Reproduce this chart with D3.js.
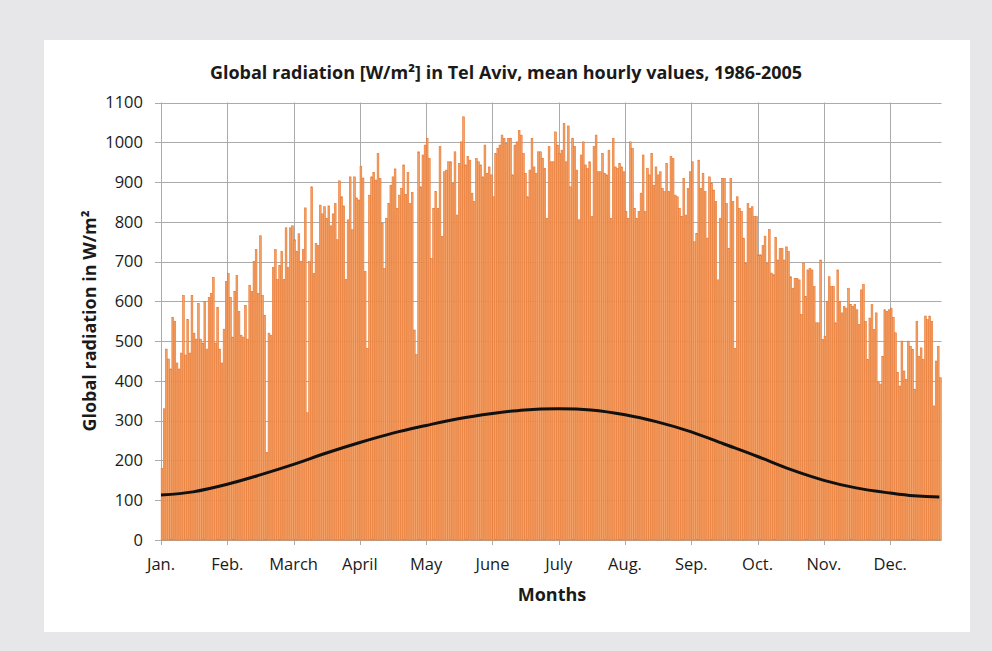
<!DOCTYPE html>
<html>
<head>
<meta charset="utf-8">
<script src="https://cdn.jsdelivr.net/npm/d3@7"></script>
<style>
  body { margin: 0; background: #e7e7e9; }
  svg { display: block; }
  text { font-family: "Open Sans", "Noto Sans", sans-serif; fill: #1a1a1a; }
</style>
</head>
<body>
<script>
// daily peak of the hourly means, W/m2, one block per 31-day tick interval
var peakJan = [180, 330, 480, 455, 430, 560, 550, 445, 430, 470, 615, 465, 555, 470, 615, 520, 505, 595, 505, 495, 600, 480, 610, 620, 660, 495, 585, 480, 445, 530, 650];
var peakFeb = [670, 610, 510, 625, 665, 575, 515, 510, 590, 505, 640, 625, 700, 730, 620, 765, 615, 565, 220, 520, 515, 685, 730, 655, 690, 725, 655, 785, 685, 785, 790];
var peakMar = [755, 725, 770, 700, 730, 835, 320, 700, 888, 670, 745, 740, 842, 820, 838, 808, 840, 790, 820, 846, 755, 903, 863, 840, 655, 805, 913, 780, 913, 860, 855];
var peakApr = [939, 910, 675, 482, 867, 913, 924, 905, 972, 909, 796, 683, 809, 846, 892, 913, 933, 834, 867, 884, 943, 869, 924, 846, 874, 528, 466, 976, 888, 968, 993];
var peakMay = [1010, 959, 708, 834, 876, 834, 989, 763, 926, 930, 951, 951, 897, 976, 817, 947, 1001, 1064, 943, 964, 955, 872, 851, 959, 951, 943, 913, 993, 922, 938, 918];
var peakJun = [863, 972, 985, 993, 1018, 1010, 997, 1010, 1010, 918, 993, 1001, 1030, 1018, 972, 922, 863, 930, 1010, 938, 922, 976, 976, 959, 934, 809, 989, 951, 951, 1026, 993];
var peakJul = [972, 980, 1047, 951, 1041, 888, 1010, 989, 930, 805, 968, 1001, 943, 934, 951, 813, 989, 1018, 926, 926, 972, 922, 918, 980, 809, 1010, 938, 934, 947, 938, 926];
var peakAug = [826, 809, 1001, 985, 834, 809, 826, 872, 968, 826, 934, 918, 972, 892, 938, 918, 926, 884, 876, 947, 876, 964, 959, 867, 863, 834, 813, 909, 817, 884, 926];
var peakSep = [951, 750, 771, 955, 884, 922, 876, 759, 913, 897, 880, 851, 654, 809, 909, 909, 846, 733, 909, 851, 482, 863, 834, 826, 759, 696, 846, 834, 838, 813, 813];
var peakOct = [717, 717, 740, 764, 696, 781, 671, 667, 761, 704, 733, 733, 704, 737, 725, 662, 633, 658, 658, 654, 567, 696, 612, 679, 683, 679, 637, 546, 546, 704, 504];
var peakNov = [512, 600, 662, 637, 637, 546, 679, 600, 571, 587, 583, 633, 592, 587, 592, 579, 542, 629, 642, 550, 454, 558, 592, 529, 571, 396, 392, 462, 579, 575, 579];
var peakDec = [583, 560, 521, 421, 387, 500, 425, 404, 500, 487, 479, 379, 550, 462, 483, 454, 563, 554, 563, 550, 337, 450, 487, 408];

// mean curve
var meanDay   = [0, 15, 31, 46, 62, 77, 93, 108, 124, 139, 155, 170, 186, 201, 217, 232, 248, 263, 279, 294, 310, 325, 341, 352, 364];
var meanValue = [113, 121, 140, 163, 190, 218, 245, 268, 288, 305, 318, 327, 330, 327, 315, 297, 272, 242, 210, 178, 150, 131, 118, 111, 108];

var monthLabels = ["Jan.", "Feb.", "March", "April", "May", "June", "July", "Aug.", "Sep.", "Oct.", "Nov.", "Dec."];
var yTicks = [0, 100, 200, 300, 400, 500, 600, 700, 800, 900, 1000, 1100];

var peaks = [].concat(peakJan, peakFeb, peakMar, peakApr, peakMay, peakJun,
                      peakJul, peakAug, peakSep, peakOct, peakNov, peakDec);

var width = 992, height = 651;
var svg = d3.select("body").append("svg")
  .attr("width", width)
  .attr("height", height);

svg.append("rect")
  .attr("x", 44).attr("y", 40)
  .attr("width", 926).attr("height", 592)
  .attr("fill", "#ffffff");

var xScale = d3.scaleLinear().domain([0, 365]).range([161, 941.5]);
var yScale = d3.scaleLinear().domain([0, 1100]).range([540, 102.5]);
var tickDays = monthLabels.map(function(m, i){ return i * 31; });

// horizontal grid
svg.append("g").selectAll("line")
  .data(yTicks)
  .enter()
  .append("line")
  .attr("x1", 155).attr("x2", xScale(365))
  .attr("y1", function(d){ return Math.round(yScale(d)) + 0.5; })
  .attr("y2", function(d){ return Math.round(yScale(d)) + 0.5; })
  .attr("stroke", "#ababab")
  .attr("stroke-width", 1);

// vertical grid at month ticks
svg.append("g").selectAll("line")
  .data(tickDays)
  .enter()
  .append("line")
  .attr("x1", function(d){ return Math.round(xScale(d)) + 0.5; })
  .attr("x2", function(d){ return Math.round(xScale(d)) + 0.5; })
  .attr("y1", yScale(1100)).attr("y2", 545)
  .attr("stroke", "#ababab")
  .attr("stroke-width", 1);

// daily bars
var bw = xScale(1) - xScale(0);
svg.append("g").selectAll("rect")
  .data(peaks)
  .enter()
  .append("rect")
  .attr("x", function(d, i){ return xScale(i) + 0.15; })
  .attr("y", function(d){ return yScale(d); })
  .attr("width", bw * 0.82)
  .attr("height", function(d){ return yScale(0) - yScale(d); })
  .attr("fill", "#f3a26a")
  .attr("stroke", "#e8752b")
  .attr("stroke-width", 0.6);

// mean line
var line = d3.line()
  .x(function(d, i){ return xScale(meanDay[i]); })
  .y(function(d){ return yScale(d); })
  .curve(d3.curveCatmullRom);

svg.append("path")
  .datum(meanValue)
  .attr("d", line)
  .attr("fill", "none")
  .attr("stroke", "#111111")
  .attr("stroke-width", 3);

// y tick labels
svg.append("g").selectAll("text")
  .data(yTicks)
  .enter()
  .append("text")
  .attr("x", 143)
  .attr("y", function(d){ return yScale(d); })
  .attr("dy", "0.35em")
  .attr("text-anchor", "end")
  .style("font-size", "16.5px")
  .text(function(d){ return d; });

// x tick labels
svg.append("g").selectAll("text")
  .data(monthLabels)
  .enter()
  .append("text")
  .attr("x", function(d, i){ return xScale(tickDays[i]); })
  .attr("y", 570)
  .attr("text-anchor", "middle")
  .style("font-size", "16.5px")
  .text(function(d){ return d; });

svg.append("text")
  .attr("x", 506).attr("y", 79)
  .attr("text-anchor", "middle")
  .style("font-size", "18px")
  .style("font-weight", "bold")
  .text("Global radiation [W/m²] in Tel Aviv, mean hourly values, 1986-2005");

svg.append("text")
  .attr("x", 552).attr("y", 601)
  .attr("text-anchor", "middle")
  .style("font-size", "18px")
  .style("font-weight", "bold")
  .text("Months");

svg.append("text")
  .attr("transform", "translate(96,321) rotate(-90)")
  .attr("text-anchor", "middle")
  .style("font-size", "18px")
  .style("font-weight", "bold")
  .text("Global radiation in W/m²");
</script>
</body>
</html>
